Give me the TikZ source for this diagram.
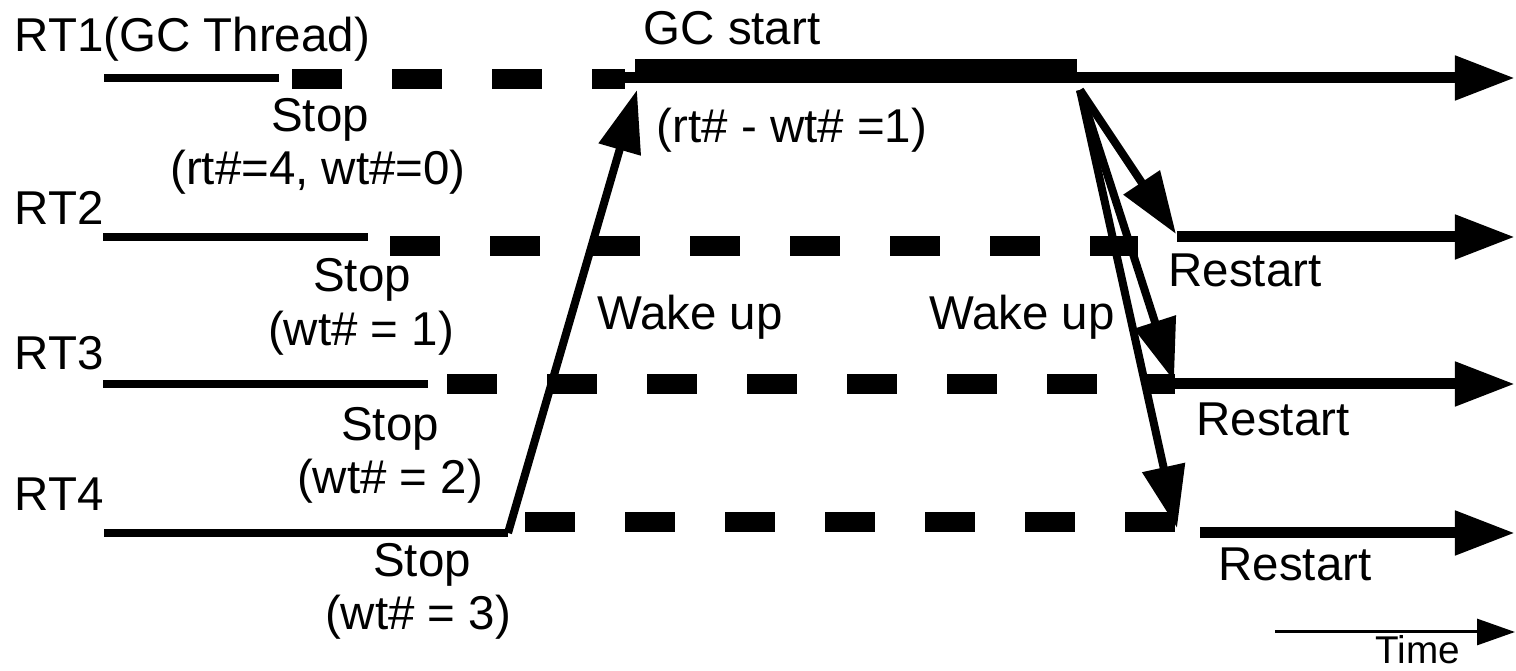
\documentclass[tikz,border=0pt]{standalone}
\usepackage{fontspec}
\setmainfont{Liberation Sans}
\usetikzlibrary{arrows.meta}

\tikzset{
  running/.style={line width=0.08cm},
  waiting/.style={line width=0.2cm, dash pattern=on 0.5cm off 0.5cm},
  gcbar/.style={line width=0.24cm},
  restart/.style={line width=0.11cm, -{Triangle[length=0.6cm,width=0.42cm]}},
  wakeup/.style={line width=0.08cm, -{Triangle[length=0.62cm,width=0.42cm]}},
  lbl/.style={font=\fontsize{13.5}{16}\selectfont, inner sep=0pt, anchor=base},
}

\begin{document}
\begin{tikzpicture}[x=0.01cm, y=-0.01cm]
                    \useasboundingbox (0,0) rectangle (1516,671);

                    % Thread RT1 (GC thread)
                    \coordinate (rt1on)   at (104,78);
                    \coordinate (rt1off)  at (279,78);
                    \coordinate (rt1wa)   at (292,79);
                    \coordinate (rt1wb)   at (625,79);
                    \coordinate (rt1go)   at (625,78);
                    \coordinate (rt1end)  at (1515,78);
                    \coordinate (gcbeg)   at (635,71);
                    \coordinate (gcend)   at (1077,71);
                    \coordinate (gcfire)  at (1080,90);

                    % Thread RT2
                    \coordinate (rt2on)   at (103,237);
                    \coordinate (rt2off)  at (368,237);
                    \coordinate (rt2wa)   at (390,246);
                    \coordinate (rt2wb)   at (1138,246);
                    \coordinate (rt2go)   at (1177,237);
                    \coordinate (rt2end)  at (1515,237);
                    \coordinate (rt2hit)  at (1176,234);

                    % Thread RT3
                    \coordinate (rt3on)   at (103,384);
                    \coordinate (rt3off)  at (428,384);
                    \coordinate (rt3wa)   at (447,384);
                    \coordinate (rt3wb)   at (1175,384);
                    \coordinate (rt3go)   at (1175,384);
                    \coordinate (rt3end)  at (1515,384);
                    \coordinate (rt3hit)  at (1174,381);

                    % Thread RT4
                    \coordinate (rt4on)   at (104,533);
                    \coordinate (rt4off)  at (508,533);
                    \coordinate (rt4wa)   at (525,522);
                    \coordinate (rt4wb)   at (1177,522);
                    \coordinate (rt4go)   at (1200,533);
                    \coordinate (rt4end)  at (1515,533);
                    \coordinate (rt4hit)  at (1177,528);
                    \coordinate (gcwake)  at (637,90);

                    % Time axis
                    \coordinate (tbeg) at (1275,632);
                    \coordinate (tend) at (1515,632);

                    % Drawing running parts
                    \draw [running] (rt1on) -- (rt1off);
                    \draw [running] (rt2on) -- (rt2off);
                    \draw [running] (rt3on) -- (rt3off);
                    \draw [running] (rt4on) -- (rt4off);

                    % Drawing waiting parts
                    \draw [waiting] (rt1wa) -- (rt1wb);
                    \draw [waiting] (rt2wa) -- (rt2wb);
                    \draw [waiting] (rt3wa) -- (rt3wb);
                    \draw [waiting] (rt4wa) -- (rt4wb);

                    % Drawing restarted parts
                    \draw [restart] (rt1go) -- (rt1end);
                    \draw [restart] (rt2go) -- (rt2end);
                    \draw [restart] (rt3go) -- (rt3end);
                    \draw [restart] (rt4go) -- (rt4end);

                    % Drawing GC run
                    \draw [gcbar] (gcbeg) -- (gcend);

                    % Drawing wake up signals
                    \draw [wakeup] (rt4off) -- (gcwake);
                    \draw [wakeup] (gcfire) -- (rt2hit);
                    \draw [wakeup] (gcfire) -- (rt3hit);
                    \draw [wakeup] (gcfire) -- (rt4hit);

                    % Drawing time axis
                    \draw [line width=0.03cm, -{Triangle[length=0.38cm,width=0.26cm]}] (tbeg) -- (tend);

                    % Marking threads
                    \node [lbl, anchor=base west] (rt1) at (14,52) {RT1(GC Thread)};
                    \node [lbl, anchor=base west] (rt2) at (14,225) {RT2};
                    \node [lbl, anchor=base west] (rt3) at (14,370) {RT3};
                    \node [lbl, anchor=base west] (rt4) at (14,511) {RT4};

                    % Marking stops
                    \node [lbl] (stop1) at (320,132) {Stop};
                    \node [lbl] (cnt1)  at (318,185) {(rt\#=4, wt\#=0)};
                    \node [lbl] (stop2) at (362,292) {Stop};
                    \node [lbl] (cnt2)  at (361,346) {(wt\# = 1)};
                    \node [lbl] (stop3) at (390,441) {Stop};
                    \node [lbl] (cnt3)  at (390,494) {(wt\# = 2)};
                    \node [lbl] (stop4) at (422,577) {Stop};
                    \node [lbl] (cnt4)  at (418,630) {(wt\# = 3)};

                    % Marking GC
                    \node [lbl] (gc)   at (732,45) {GC start};
                    \node [lbl] (diff) at (792,143) {(rt\# - wt\# =1)};

                    % Marking wake up and restart
                    \node [lbl] (wake1) at (690,330) {Wake up};
                    \node [lbl] (wake2) at (1022,330) {Wake up};
                    \node [lbl] (rs2) at (1245,287) {Restart};
                    \node [lbl] (rs3) at (1273,436) {Restart};
                    \node [lbl] (rs4) at (1295,581) {Restart};

                    % Marking time
                    \node [lbl, font=\fontsize{11}{13}\selectfont] (time) at (1418,664) {Time};
\end{tikzpicture}
\end{document}
